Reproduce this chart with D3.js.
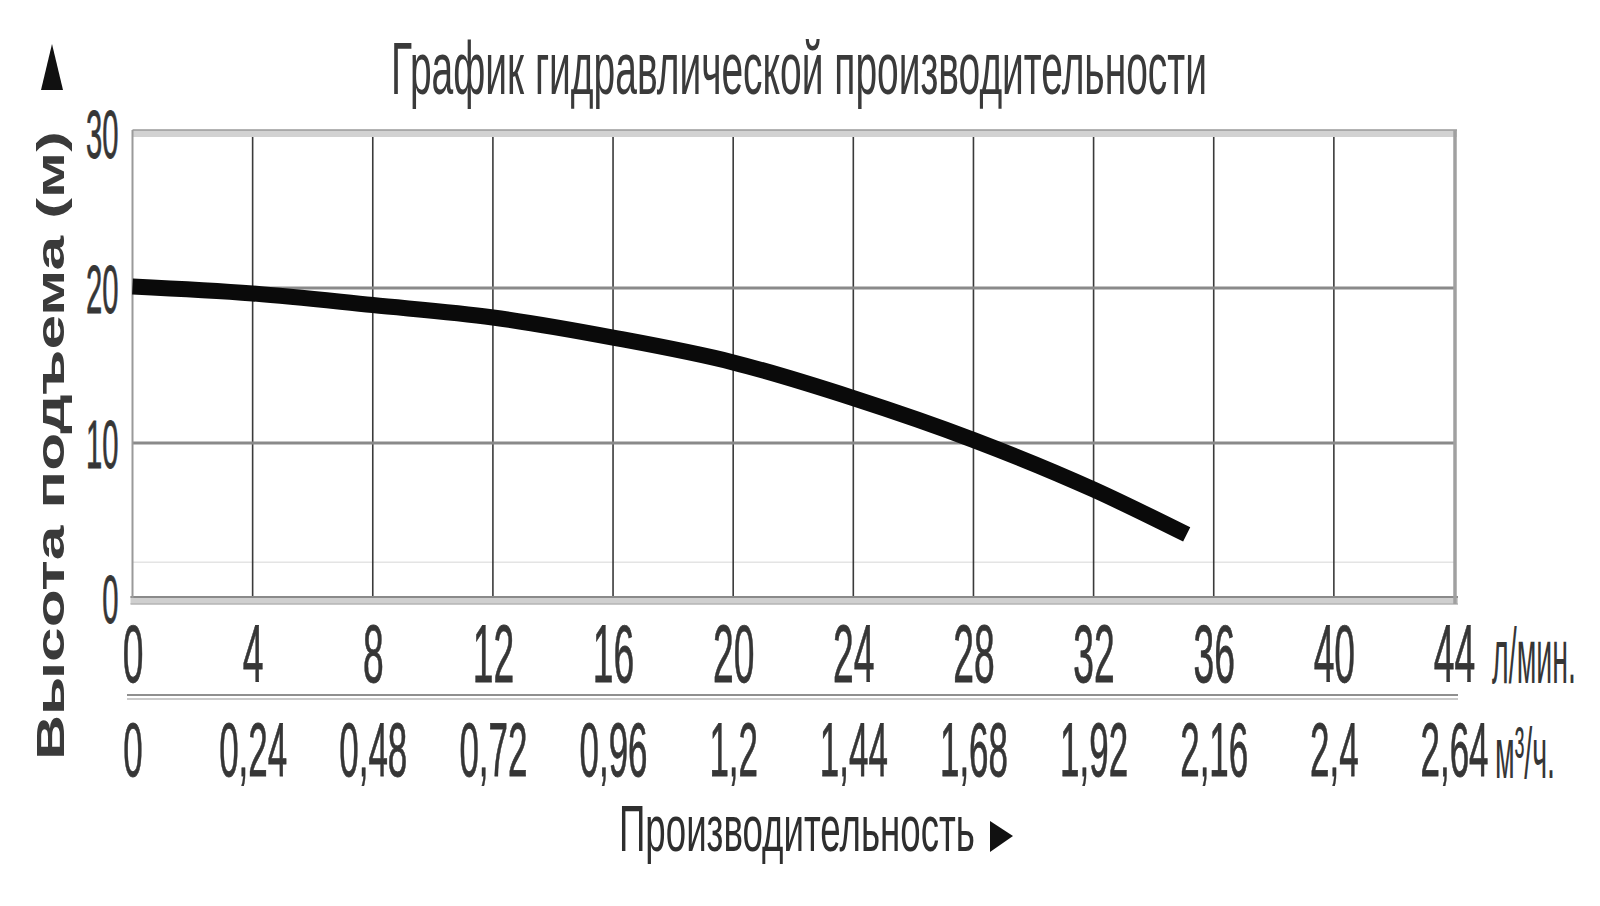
<!DOCTYPE html>
<html><head><meta charset="utf-8">
<script src="https://cdn.jsdelivr.net/npm/d3@7"></script>
<style>
html,body{margin:0;padding:0;background:#fff;}
svg{display:block;font-family:"Liberation Sans",Arial,sans-serif;}
</style></head>
<body><svg id="c" width="1600" height="906"></svg>
<script>
// ---- data ----
const flowTicks = [0,4,8,12,16,20,24,28,32,36,40,44];             // л/мин
const m3Ticks = [0,0.24,0.48,0.72,0.96,1.2,1.44,1.68,1.92,2.16,2.4,2.64];
const m3Labels = ["0","0,24","0,48","0,72","0,96","1,2","1,44","1,68","1,92","2,16","2,4","2,64"];
const headTicks = [0,10,20,30];
const curveFlow = [0,4,8,12,16,20,24,28,32,35.1];
const curveHead = [20.1,19.65,18.9,18.1,16.8,15.2,12.9,10.2,7.0,4.1];

const title = "График гидравлической производительности";
const yTitle = "Высота подъема (м)";
const xTitle = "Производительность";
const unitFlow = "л/мин.";
const unitM3 = "м³/ч.";

// ---- layout ----
const svg = d3.select("#c");
const L = 132.5, R = 1454, T = 133, B = 598;
const x = d3.scaleLinear().domain([0,44]).range([L,R]);
const x2 = d3.scaleLinear().domain([0,2.64]).range([L,R]);
const y = d3.scaleLinear().domain([0,30]).range([B,T]);
const txt = "#363636";

// place a text horizontally compressed to a target width
function fitText(str, x0, y0, size, width, opts={}) {
  const t = svg.append("text").attr("font-size",size).attr("fill",opts.fill||txt)
    .attr("font-weight",opts.weight||"normal").text(str);
  const w = t.node().getComputedTextLength();
  const s = width / w;
  t.attr("transform", `translate(${x0},${y0}) ${opts.rotate?`rotate(${opts.rotate}) `:""}scale(${s},1)`);
  return t;
}

// faint decorative line near bottom
svg.append("line").attr("x1",L).attr("x2",R).attr("y1",y(2.3)).attr("y2",y(2.3))
  .attr("stroke","#e4e4e4").attr("stroke-width",1.5);

// vertical gridlines
svg.append("g").selectAll("line").data(flowTicks.slice(1,-1)).join("line")
  .attr("x1",d=>x(d)).attr("x2",d=>x(d)).attr("y1",T).attr("y2",B)
  .attr("stroke","#3a3a3a").attr("stroke-width",1.6);

// horizontal gridlines
svg.append("g").selectAll("line").data([10,20]).join("line")
  .attr("x1",L).attr("x2",R+2).attr("y1",d=>y(d)).attr("y2",d=>y(d))
  .attr("stroke","#8a8a8a").attr("stroke-width",3);

// frame
svg.append("rect").attr("x",L).attr("y",T-3).attr("width",R-L+3).attr("height",7).attr("fill","#d2d2d2");
svg.append("line").attr("x1",L).attr("x2",R+3).attr("y1",T-3).attr("y2",T-3).attr("stroke","#9a9a9a").attr("stroke-width",1.5);
svg.append("rect").attr("x",L-2).attr("y",B-2).attr("width",R-L+6).attr("height",8).attr("fill","#cfcfcf");
svg.append("line").attr("x1",L-2).attr("x2",R+4).attr("y1",B-1).attr("y2",B-1).attr("stroke","#8a8a8a").attr("stroke-width",2);
svg.append("line").attr("x1",L-2).attr("x2",R+4).attr("y1",B+6).attr("y2",B+6).attr("stroke","#b5b5b5").attr("stroke-width",1.5);
svg.append("line").attr("x1",L).attr("x2",L).attr("y1",T-3).attr("y2",B).attr("stroke","#9a9a9a").attr("stroke-width",2);
svg.append("line").attr("x1",R+1).attr("x2",R+1).attr("y1",T-3).attr("y2",B+6).attr("stroke","#a0a0a0").attr("stroke-width",3.5);

// curve
const pts = curveFlow.map((f,i)=>[f,curveHead[i]]);
svg.append("path").datum(pts)
  .attr("d", d3.line().x(d=>x(d[0])).y(d=>y(d[1])).curve(d3.curveMonotoneX))
  .attr("fill","none").attr("stroke","#0a0a0a").attr("stroke-width",16).attr("stroke-linecap","butt");

// y axis
const sxY = 0.43;
const gy = svg.append("g").attr("transform",`translate(${L},0)`)
  .call(d3.axisLeft(y).tickValues(headTicks).tickSize(0).tickFormat(d3.format("d")));
gy.select(".domain").remove();
gy.selectAll("text").attr("font-size",68).attr("fill",txt)
  .attr("font-family","Liberation Sans, Arial, sans-serif")
  .attr("stroke",txt).attr("stroke-width",0.8)
  .attr("x",-14/sxY).attr("dy","0.36em").attr("transform",`scale(${sxY},1)`);

// x axis (л/мин)
const sxX = 0.46;
const gx = svg.append("g").attr("transform",`translate(0,682)`)
  .call(d3.axisBottom(x).tickValues(flowTicks).tickSize(0).tickFormat(d3.format("d")));
gx.select(".domain").remove();
gx.selectAll("text").attr("font-size",81).attr("fill",txt)
  .attr("font-family","Liberation Sans, Arial, sans-serif")
  .attr("stroke",txt).attr("stroke-width",0.8)
  .attr("y",0).attr("dy",0).attr("transform",`scale(${sxX},1)`);

// second axis line
svg.append("line").attr("x1",127).attr("x2",1458).attr("y1",695).attr("y2",695).attr("stroke","#8f8f8f").attr("stroke-width",2);
svg.append("line").attr("x1",127).attr("x2",1458).attr("y1",699).attr("y2",699).attr("stroke","#b8b8b8").attr("stroke-width",1.5);

// x axis (м³/ч)
const gx2 = svg.append("g").attr("transform",`translate(0,776)`)
  .call(d3.axisBottom(x2).tickValues(m3Ticks).tickSize(0).tickFormat((d,i)=>m3Labels[i]));
gx2.select(".domain").remove();
gx2.selectAll("text").attr("font-size",76).attr("fill",txt)
  .attr("font-family","Liberation Sans, Arial, sans-serif")
  .attr("stroke",txt).attr("stroke-width",0.8)
  .attr("y",0).attr("dy",0).attr("transform",`scale(${sxX},1)`);

// unit labels
fitText(unitFlow, 1492, 683, 78, 84);
fitText(unitM3, 1495, 778, 72, 60);

// title
fitText(title, 391, 94, 74, 816, {fill:"#3a3a3a"});

// y title (rotated) + arrow
fitText(yTitle, 64, 760, 38, 629, {weight:"bold", rotate:-90, fill:"#3a3a3a"});
svg.append("path").attr("d","M52,44 L63,90 L41,90 Z").attr("fill","#111");

// x title + arrow
fitText(xTitle, 619, 851, 64, 356, {fill:"#2e2e2e"});
svg.append("path").attr("d","M990,821 L1013,836 L990,852 Z").attr("fill","#111");
</script></body></html>
